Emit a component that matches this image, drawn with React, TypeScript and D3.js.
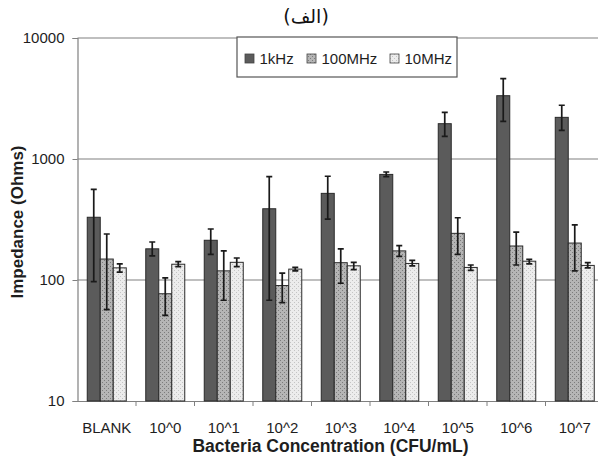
import React, { useEffect, useRef } from "react";
import * as d3 from "d3";

const categories = ["BLANK", "10^0", "10^1", "10^2", "10^3", "10^4", "10^5", "10^6", "10^7"];
const seriesNames = ["1kHz", "100MHz", "10MHz"];

// mean values and error bar ends (low / high)
const khz1 = [330, 181, 213, 388, 520, 746, 1958, 3335, 2209];
const khz1Low = [97, 158, 163, 68, 319, 714, 1538, 2048, 1725];
const khz1High = [562, 206, 264, 714, 720, 781, 2432, 4613, 2780];

const mhz100 = [149, 77, 119, 90, 139, 174, 243, 191, 202];
const mhz100Low = [57, 51, 68, 65, 94, 157, 163, 133, 119];
const mhz100High = [240, 104, 174, 114, 181, 192, 327, 249, 285];

const mhz10 = [126, 135, 140, 123, 131, 137, 127, 143, 132];
const mhz10Low = [116, 129, 129, 119, 122, 131, 120, 136, 126];
const mhz10High = [136, 142, 152, 127, 140, 145, 133, 148, 139];

const yTicks = [10, 100, 1000, 10000];

const W = 598;
const H = 459;
const margin = { top: 38, left: 77.5, bottom: 401, right: 604 };

const fills = ["#5b5b5b", "url(#dotMid)", "url(#dotLight)"];

export default function App() {
  const ref = useRef<SVGSVGElement>(null);

  useEffect(() => {
    const svg = d3.select(ref.current);
    svg.selectAll("*").remove();

    const defs = svg.append("defs");
    const makePattern = (id: string, bg: string, dot: string) => {
      const p = defs.append("pattern")
        .attr("id", id)
        .attr("width", 4)
        .attr("height", 4)
        .attr("patternUnits", "userSpaceOnUse");
      p.append("rect").attr("width", 4).attr("height", 4).attr("fill", bg);
      p.append("rect").attr("x", 0).attr("y", 0).attr("width", 1).attr("height", 1).attr("fill", dot);
      p.append("rect").attr("x", 2).attr("y", 2).attr("width", 1).attr("height", 1).attr("fill", dot);
    };
    makePattern("dotMid", "#b5b5b5", "#7c7c7c");
    makePattern("dotLight", "#ececec", "#c4c4c4");

    const font = "'Liberation Sans', Arial, sans-serif";

    const y = d3.scaleLog().domain([10, 10000]).range([margin.bottom, margin.top]);
    const x0 = d3.scaleBand().domain(categories).range([margin.left, margin.right]).padding(0);
    const bw = x0.bandwidth();
    const x1 = d3.scaleBand().domain(seriesNames).range([bw / 6, (bw * 5) / 6]).padding(0);

    // gridlines
    svg.append("g")
      .selectAll("line")
      .data(yTicks.slice(1))
      .join("line")
      .attr("x1", margin.left)
      .attr("x2", W)
      .attr("y1", (d) => y(d))
      .attr("y2", (d) => y(d))
      .attr("stroke", "#808080")
      .attr("stroke-width", 1.2);

    // y axis
    const yAxis = svg.append("g")
      .attr("transform", `translate(${margin.left},0)`)
      .call(d3.axisLeft(y).tickValues(yTicks).tickFormat(d3.format("d")).tickSize(5).tickPadding(8));
    yAxis.select(".domain").attr("stroke", "#808080").attr("stroke-width", 1.2);
    yAxis.selectAll(".tick line").attr("stroke", "#808080");
    yAxis.selectAll(".tick text")
      .attr("font-family", font)
      .attr("font-size", 15)
      .attr("fill", "#1e1e1e");

    // x axis
    const xAxis = svg.append("g")
      .attr("transform", `translate(0,${margin.bottom})`)
      .call(d3.axisBottom(x0).tickSize(0).tickPadding(0));
    xAxis.select(".domain").attr("stroke", "#808080").attr("stroke-width", 1.2);
    xAxis.selectAll(".tick text")
      .attr("dy", null)
      .attr("y", 31.5)
      .attr("font-family", font)
      .attr("font-size", 15)
      .attr("fill", "#1e1e1e");
    // boundary tick marks between categories
    svg.append("g")
      .selectAll("line")
      .data(categories.slice(1))
      .join("line")
      .attr("x1", (d) => x0(d)!)
      .attr("x2", (d) => x0(d)!)
      .attr("y1", margin.bottom)
      .attr("y2", margin.bottom + 5)
      .attr("stroke", "#808080");

    const series = [
      { name: seriesNames[0], v: khz1, lo: khz1Low, hi: khz1High },
      { name: seriesNames[1], v: mhz100, lo: mhz100Low, hi: mhz100High },
      { name: seriesNames[2], v: mhz10, lo: mhz10Low, hi: mhz10High },
    ];

    series.forEach((s, si) => {
      const g = svg.append("g");
      const rows = categories.map((c, i) => ({ c, v: s.v[i], lo: s.lo[i], hi: s.hi[i] }));
      g.selectAll("rect")
        .data(rows)
        .join("rect")
        .attr("x", (d) => x0(d.c)! + x1(s.name)!)
        .attr("width", x1.bandwidth())
        .attr("y", (d) => y(d.v))
        .attr("height", (d) => margin.bottom - y(d.v))
        .attr("fill", fills[si])
        .attr("stroke", "#2a2a2a")
        .attr("stroke-width", 1);

      const cx = (d: { c: string }) => x0(d.c)! + x1(s.name)! + x1.bandwidth() / 2;
      g.selectAll("path.err")
        .data(rows)
        .join("path")
        .attr("class", "err")
        .attr("d", (d) => {
          const xc = cx(d);
          return `M${xc},${y(d.lo)}V${y(d.hi)}M${xc - 3},${y(d.hi)}H${xc + 3}M${xc - 3},${y(d.lo)}H${xc + 3}`;
        })
        .attr("fill", "none")
        .attr("stroke", "#1a1a1a")
        .attr("stroke-width", 1.7);
    });

    // legend
    const lg = svg.append("g");
    lg.append("rect")
      .attr("x", 237).attr("y", 37).attr("width", 220).attr("height", 40)
      .attr("fill", "#fff").attr("stroke", "#555").attr("stroke-width", 1.2);
    const legendX = [245, 307, 390];
    seriesNames.forEach((n, i) => {
      lg.append("rect")
        .attr("x", legendX[i]).attr("y", 54).attr("width", 9).attr("height", 9)
        .attr("fill", fills[i]).attr("stroke", "#444").attr("stroke-width", 0.8);
      lg.append("text")
        .attr("x", legendX[i] + 14.5).attr("y", 63.5)
        .attr("font-family", font).attr("font-size", 15).attr("fill", "#1e1e1e")
        .text(n);
    });

    // axis titles
    svg.append("text")
      .attr("x", 330.5)
      .attr("y", 452)
      .attr("text-anchor", "middle")
      .attr("font-family", font).attr("font-size", 17.5).attr("font-weight", "bold").attr("fill", "#1e1e1e")
      .text("Bacteria Concentration (CFU/mL)");
    svg.append("text")
      .attr("transform", `translate(23,222) rotate(-90)`)
      .attr("text-anchor", "middle")
      .attr("font-family", font).attr("font-size", 17).attr("font-weight", "bold").attr("fill", "#1e1e1e")
      .text("Impedance (Ohms)");

    // title
    svg.append("text")
      .attr("x", 306).attr("y", 23)
      .attr("text-anchor", "middle")
      .attr("font-family", "'DejaVu Sans', 'Noto Sans', sans-serif").attr("font-size", 19).attr("fill", "#111")
      .text("(الف)");
  }, []);

  return (
    <svg
      ref={ref}
      width={W}
      height={H}
      style={{ position: "absolute", left: 0, top: 0, background: "#fff", display: "block" }}
    />
  );
}
